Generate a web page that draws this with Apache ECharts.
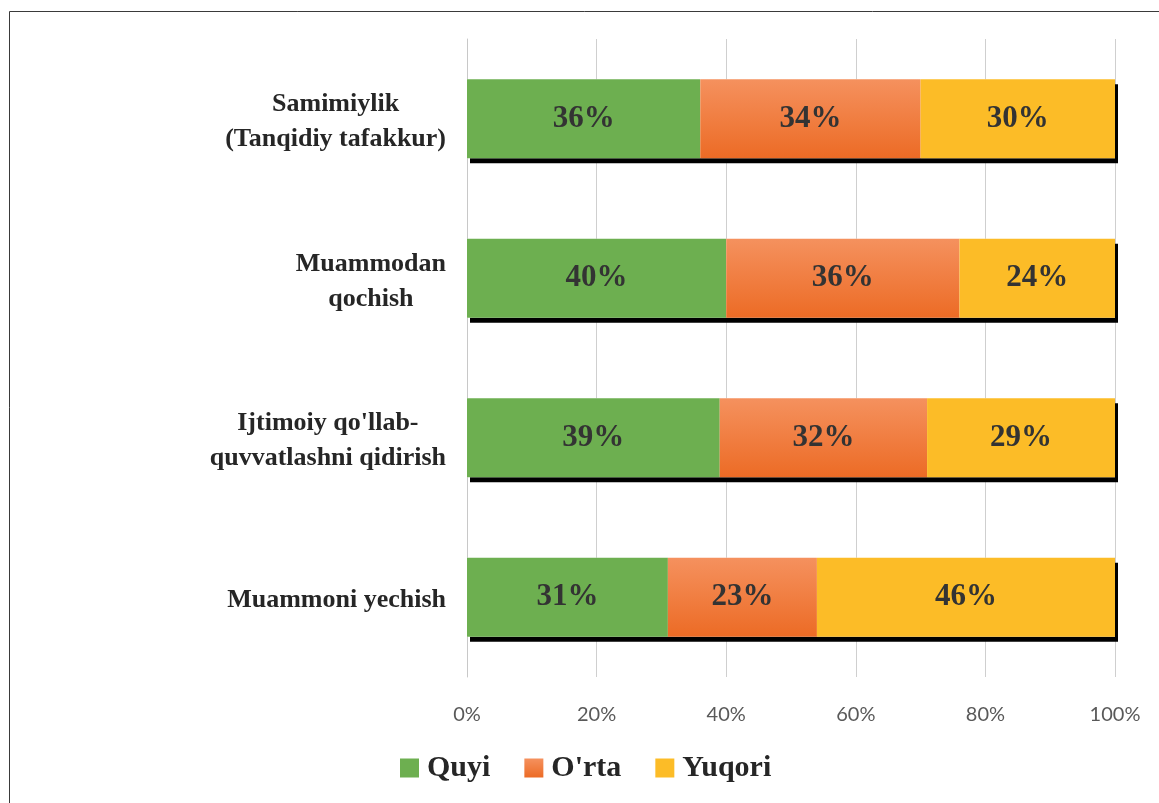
<!DOCTYPE html>
<html>
<head>
<meta charset="utf-8">
<script src="https://cdn.jsdelivr.net/npm/echarts@6/dist/echarts.min.js"></script>
<style>
html,body{margin:0;padding:0;background:#fff;}
#chart{width:1159px;height:803px;}
</style>
</head>
<body>
<div id="chart"></div>
<script>
var categories = ['Samimiylik\n(Tanqidiy tafakkur)', 'Muammodan\nqochish', "Ijtimoiy qo'llab-\nquvvatlashni qidirish", 'Muammoni yechish'];
var seriesNames = ['Quyi', "O'rta", 'Yuqori'];
var quyi = [36, 40, 39, 31];
var orta = [34, 36, 32, 23];
var yuqori = [30, 24, 29, 46];
var xTicks = [0, 20, 40, 60, 80, 100];

var chart = echarts.init(document.getElementById('chart'));
var serif = '"Liberation Serif", "Times New Roman", serif';
var orangeGrad = new echarts.graphic.LinearGradient(0, 0, 0, 1, [
  {offset: 0, color: '#F5915E'}, {offset: 1, color: '#EC6B25'}
]);
var colors = ['#6DAF50', orangeGrad, '#FCBC27'];
var dataSets = [quyi, orta, yuqori];
var totals = quyi.map(function (v, i) { return v + orta[i] + yuqori[i]; });

var series = [{
  name: 'shadow',
  type: 'bar',
  stack: 'bg',
  barWidth: 79,
  barGap: '-100%',
  data: totals,
  silent: true,
  z: 1,
  itemStyle: {
    color: '#ffffff',
    shadowColor: '#000',
    shadowBlur: 0,
    shadowOffsetX: 3,
    shadowOffsetY: 5
  },
  label: {show: false},
  emphasis: {disabled: true}
}];

dataSets.forEach(function (d, i) {
  series.push({
    name: seriesNames[i],
    type: 'bar',
    stack: 'total',
    barWidth: 79,
    barGap: '-100%',
    data: d,
    z: 2,
    itemStyle: {color: colors[i]},
    label: {
      show: true,
      position: 'inside',
      formatter: '{c}%',
      fontFamily: serif,
      fontWeight: 'bold',
      fontSize: 31,
      color: '#333333'
    },
    emphasis: {disabled: true}
  });
});

chart.setOption({
  backgroundColor: '#ffffff',
  animation: false,
  graphic: [{
    type: 'rect',
    shape: {x: 9.5, y: 11.5, width: 1300, height: 1000},
    style: {fill: 'none', stroke: '#3a3a3a', lineWidth: 1},
    z: -1
  }],
  grid: {left: 467, right: 44, top: 39, bottom: 126},
  legend: {
    data: seriesNames,
    left: 400,
    top: 753,
    padding: 0,
    itemWidth: 19,
    itemHeight: 19,
    itemGap: 34,
    icon: 'rect',
    textStyle: {
      fontFamily: serif,
      fontWeight: 'bold',
      fontSize: 30,
      color: '#262626',
      padding: [0, 0, 0, 3]
    }
  },
  xAxis: {
    type: 'value',
    min: xTicks[0],
    max: xTicks[xTicks.length - 1],
    interval: xTicks[1] - xTicks[0],
    axisLine: {show: false},
    axisTick: {show: false},
    splitLine: {lineStyle: {color: '#CFCFCF', width: 1}},
    axisLabel: {
      formatter: '{value}%',
      fontFamily: 'Lato, "Open Sans", sans-serif',
      fontSize: 20,
      color: '#595959',
      margin: 28
    }
  },
  yAxis: {
    type: 'category',
    inverse: true,
    data: categories,
    axisTick: {show: false},
    axisLine: {show: true, lineStyle: {color: '#C8C8C8', width: 1}},
    axisLabel: {
      align: 'right',
      margin: 21,
      padding: [7, 0, 0, 0],
      formatter: function (v) {
        return v.split('\n').map(function (l) { return '{c|' + l + '}'; }).join('\n');
      },
      rich: {
        c: {
          align: 'center',
          fontFamily: serif,
          fontWeight: 'bold',
          fontSize: 26,
          lineHeight: 35,
          color: '#262626'
        }
      }
    }
  },
  series: series
});
</script>
</body>
</html>
